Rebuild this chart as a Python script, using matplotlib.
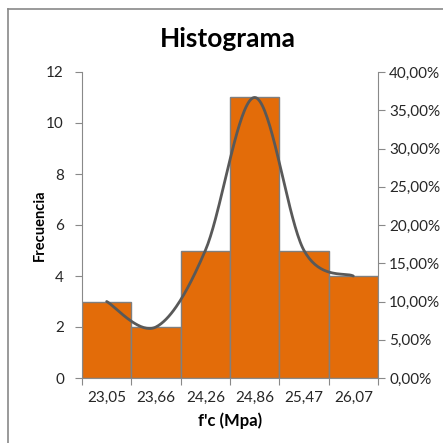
import numpy as np
import matplotlib.pyplot as plt
from matplotlib.lines import Line2D

# histogram data
clases = ["23,05", "23,66", "24,26", "24,86", "25,47", "26,07"]
frecuencia = [3, 2, 5, 11, 5, 4]
porcentaje = [10.00, 6.67, 16.67, 36.67, 16.67, 13.33]

BAR_COLOR = "#E36C09"
EDGE = "#7F7F7F"
AXIS_GRAY = "#898989"
LINE_COLOR = "#595959"

plt.rcParams["font.family"] = ["Lato", "DejaVu Sans"]


def smooth(xs, ys, n=40):
    # Excel-like smoothed line (Catmull-Rom through the points)
    xs = np.asarray(xs, float)
    ys = np.asarray(ys, float)
    px = np.concatenate([[xs[0]], xs, [xs[-1]]])
    py = np.concatenate([[ys[0]], ys, [ys[-1]]])
    ox, oy = [], []
    for i in range(1, len(px) - 2):
        t = np.linspace(0, 1, n)
        for arr, out in ((px, ox), (py, oy)):
            p0, p1, p2, p3 = arr[i - 1], arr[i], arr[i + 1], arr[i + 2]
            m1 = (p2 - p0) / 2
            m2 = (p3 - p1) / 2
            h00 = 2 * t**3 - 3 * t**2 + 1
            h10 = t**3 - 2 * t**2 + t
            h01 = -2 * t**3 + 3 * t**2
            h11 = t**3 - t**2
            out.extend(h00 * p1 + h10 * m1 + h01 * p2 + h11 * m2)
    return np.array(ox), np.array(oy)


fig = plt.figure(figsize=(4.43, 4.43), dpi=100)
W, H = 443, 443

# outer chart frame (cut off on right and bottom)
fig.add_artist(Line2D([8 / W, 8 / W], [0, 1 - 9 / H], color=AXIS_GRAY, lw=1.2))
fig.add_artist(Line2D([8 / W, 1], [1 - 9 / H, 1 - 9 / H], color=AXIS_GRAY, lw=1.2))

ax = fig.add_axes([82 / W, 65 / H, (378 - 82) / W, (378 - 72) / H])
x = np.arange(len(clases))
ax.bar(x, frecuencia, width=1.0, color=BAR_COLOR, edgecolor=EDGE, linewidth=1.0, zorder=2)
ax.set_xlim(-0.5, len(clases) - 0.5)
ax.set_ylim(0, 12)
ax.set_yticks(range(0, 13, 2))

ax.set_xticks(np.arange(-0.5, len(clases)))
ax.set_xticklabels([""] * (len(clases) + 1))
ax.set_xticks(x, minor=True)
ax.set_xticklabels(clases, minor=True)
ax.tick_params(axis="x", which="major", length=5, color=AXIS_GRAY, direction="out")
ax.tick_params(axis="x", which="minor", length=0, labelsize=11, pad=9, labelcolor="#262626")
ax.tick_params(axis="y", length=5, color=AXIS_GRAY, labelsize=11, pad=8, labelcolor="#262626")

for s in ("top", "right"):
    ax.spines[s].set_visible(False)
for s in ("left", "bottom"):
    ax.spines[s].set_color(AXIS_GRAY)

ax.set_xlabel("f'c (Mpa)", fontsize=12, fontweight="bold", va="center")
ax.xaxis.set_label_coords(0.5, -(421 - 378) / 306)
ax.set_ylabel("Frecuencia", fontsize=10.5, fontweight="bold", va="center")
ax.yaxis.set_label_coords((40 - 82) / 296, 0.5)

ax2 = ax.twinx()
ax2.set_ylim(0, 40)
ax2.set_yticks(range(0, 41, 5))
ax2.set_yticklabels([f"{v:.2f}%".replace(".", ",") for v in range(0, 41, 5)])
ax2.tick_params(axis="y", length=5, color=AXIS_GRAY, labelsize=11, pad=3, labelcolor="#262626")
for s in ("top", "left", "bottom"):
    ax2.spines[s].set_visible(False)
ax2.spines["right"].set_color(AXIS_GRAY)

sx, sy = smooth(x, porcentaje)
ax2.plot(sx, sy, color=LINE_COLOR, lw=2, solid_capstyle="round", zorder=3)

fig.text(0.515, 1 - 39 / H, "Histograma", ha="center", va="center", fontsize=19, fontweight="bold")

fig.savefig("out.png", dpi=100, facecolor="white")
